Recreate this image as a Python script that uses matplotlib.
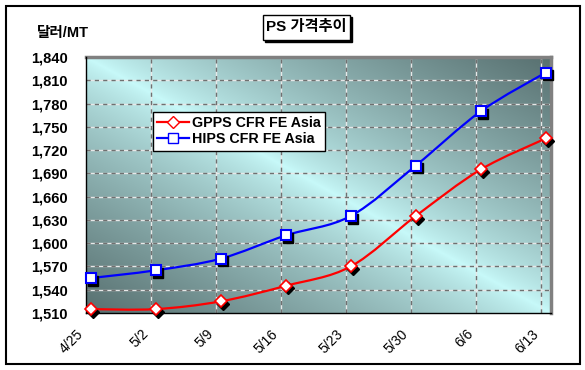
import matplotlib
matplotlib.use("Agg")
import matplotlib.pyplot as plt
import matplotlib.transforms as mtransforms
from matplotlib.path import Path
from matplotlib.patches import PathPatch, Rectangle
from matplotlib.lines import Line2D
from matplotlib.ticker import FuncFormatter
import numpy as np

plt.rcParams['font.family'] = ['Liberation Sans', 'Noto Sans CJK KR', 'DejaVu Sans']

# data
dates = ['4/25', '5/2', '5/9', '5/16', '5/23', '5/30', '6/6', '6/13']
gpps = [1515, 1515, 1525, 1545, 1570, 1635, 1695, 1735]
hips = [1555, 1565, 1580, 1610, 1635, 1700, 1770, 1820]
y_ticks = list(range(1510, 1841, 30))

title = 'PS 가격추이'
unit = '달러/MT'
names = ['GPPS CFR FE Asia', 'HIPS CFR FE Asia']


def smooth_patch(xs, ys, color):
    """Excel style smoothed line as a cubic bezier path through the points."""
    pts = np.column_stack([xs, ys]).astype(float)
    n = len(pts)
    verts = [pts[0]]
    codes = [Path.MOVETO]
    for i in range(n - 1):
        p0 = pts[max(i - 1, 0)]
        p1 = pts[i]
        p2 = pts[i + 1]
        p3 = pts[min(i + 2, n - 1)]
        verts += [p1 + (p2 - p0) / 6, p2 - (p3 - p1) / 6, p2]
        codes += [Path.CURVE4] * 3
    return PathPatch(Path(verts, codes), facecolor='none', edgecolor=color,
                     lw=1.6, zorder=4, capstyle='round')


fig = plt.figure(figsize=(5.85, 3.7), dpi=100)
ax = fig.add_axes([86 / 585, 1 - 313 / 370, 465 / 585, 256 / 370])

x = np.arange(len(dates))
shift = 0.07
ax.set_xlim(-shift, len(dates) - 1 + 0.08)
ax.set_ylim(y_ticks[0], y_ticks[-1])

# gradient plot area: light on the main diagonal, dark at the other corners
gx, gy = np.meshgrid(np.linspace(0, 1, 300), np.linspace(0, 1, 200))
t = np.abs(gx - gy) ** 0.75
light = np.array([200, 250, 250]) / 255
dark = np.array([88, 112, 112]) / 255
img = light[None, None, :] * (1 - t[..., None]) + dark[None, None, :] * t[..., None]
ax.imshow(img, extent=[0, 1, 0, 1], transform=ax.transAxes, aspect='auto',
          zorder=0, interpolation='bilinear')

# grid: white under grey dashes
grid_x = x - shift
for gxv in grid_x[1:]:
    ax.axvline(gxv, color='#e8e8e8', lw=1, zorder=1)
    ax.axvline(gxv, color='#707070', lw=1, ls=(0, (3, 3)), zorder=1.1)
for gyv in y_ticks[1:]:
    ax.axhline(gyv, color='#e8e8e8', lw=1, zorder=1)
    ax.axhline(gyv, color='#707070', lw=1, ls=(0, (3, 3)), zorder=1.1)

ax.add_patch(smooth_patch(x, gpps, 'red'))
ax.add_patch(smooth_patch(x, hips, 'blue'))

shadow = mtransforms.offset_copy(ax.transData, fig=fig, x=2.5, y=-2.5, units='dots')
ax.plot(x, gpps, ls='none', marker='D', ms=6, mfc='black', mec='black',
        transform=shadow, clip_on=False, zorder=5)
ax.plot(x, hips, ls='none', marker='s', ms=7.5, mfc='black', mec='black',
        transform=shadow, clip_on=False, zorder=5)
ax.plot(x, gpps, ls='none', marker='D', ms=6, mfc='white', mec='red', mew=1.2,
        clip_on=False, zorder=6)
ax.plot(x, hips, ls='none', marker='s', ms=7.5, mfc='white', mec='blue', mew=1.5,
        clip_on=False, zorder=6)

ax.set_xticks(grid_x, dates)
ax.set_yticks(y_ticks)
ax.yaxis.set_major_formatter(FuncFormatter(lambda v, p: f'{int(v):,}'))
ax.tick_params(axis='y', length=0, pad=13, labelsize=10.5)
ax.tick_params(axis='x', length=0, pad=10, labelsize=10)
for lab in ax.get_yticklabels():
    lab.set_fontweight('bold')
for lab in ax.get_xticklabels():
    lab.set_rotation(45)
    lab.set_ha('right')
    lab.set_va('top')

for s in ['left', 'bottom']:
    ax.spines[s].set_color('black')
    ax.spines[s].set_linewidth(1)
    ax.spines[s].set_zorder(3)
for s in ['top', 'right']:
    ax.spines[s].set_color('#808080')
    ax.spines[s].set_linewidth(2.5)

handles = [
    Line2D([], [], color='red', lw=1.6, marker='D', ms=6, mfc='white', mec='red'),
    Line2D([], [], color='blue', lw=1.6, marker='s', ms=7, mfc='white', mec='blue'),
]
leg = fig.legend(handles, names, loc='upper left',
                 bbox_to_anchor=(153 / 585, 1 - 112 / 370),
                 prop={'weight': 'bold', 'size': 10.3}, fancybox=False,
                 edgecolor='black', framealpha=1, borderpad=0.3,
                 handlelength=2.2, handletextpad=0.2, labelspacing=0.15,
                 borderaxespad=0)
leg.get_frame().set_linewidth(1)

# unit label and title box
fig.text(37 / 585, 1 - 33 / 370, unit, ha='left', va='center',
         fontsize=10.5, fontweight='bold')
fig.add_artist(Rectangle((265 / 585, 1 - 42 / 370), 87 / 585, 25 / 370,
                         transform=fig.transFigure, facecolor='black',
                         edgecolor='black', lw=1))
fig.add_artist(Rectangle((263 / 585, 1 - 40 / 370), 87 / 585, 25 / 370,
                         transform=fig.transFigure, facecolor='white',
                         edgecolor='black', lw=1))
fig.text(306.5 / 585, 1 - 27.5 / 370, title, ha='center', va='center',
         fontsize=11, fontweight='bold')

# outer frame
fig.add_artist(Rectangle((5.5 / 585, 1 - 363.5 / 370), 574 / 585, 358 / 370,
                         transform=fig.transFigure, facecolor='none',
                         edgecolor='black', lw=1.5))

fig.savefig('out.png', dpi=100)
